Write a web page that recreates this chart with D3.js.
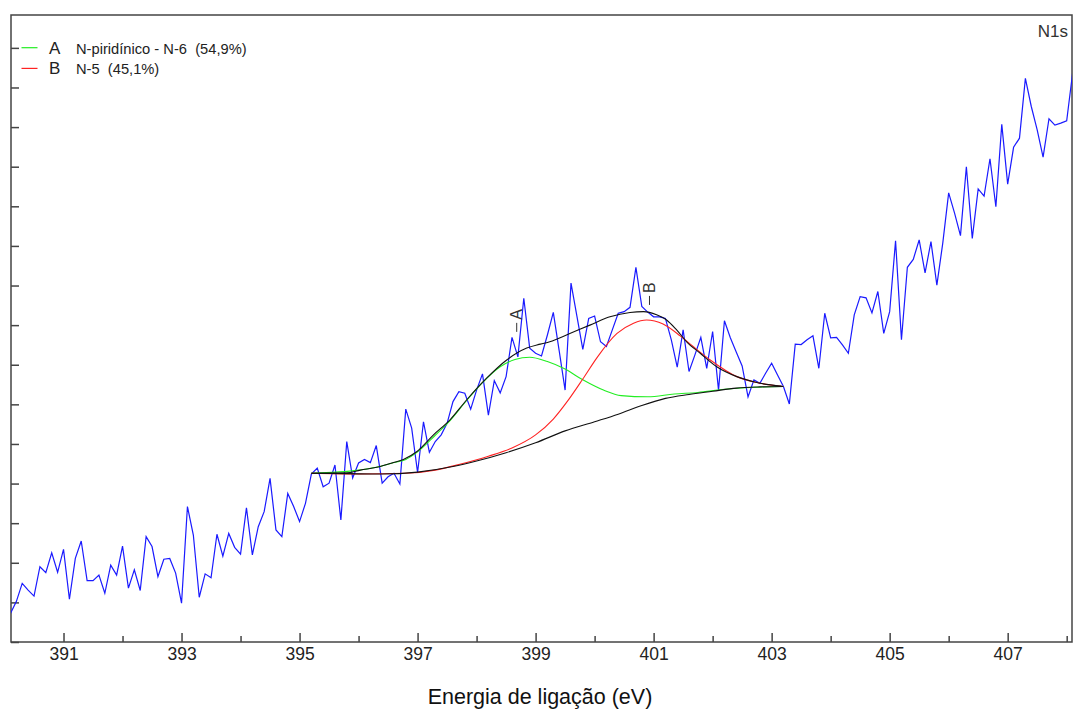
<!DOCTYPE html>
<html>
<head>
<meta charset="utf-8">
<script src="https://cdn.jsdelivr.net/npm/d3@7/dist/d3.min.js"></script>
<style>
  body { margin: 0; background: #fff; }
  svg { display: block; font-family: "Liberation Sans", Arial, sans-serif; }
  .axis text { fill: #222; font-size: 17.5px; font-family: "Liberation Sans", Arial, sans-serif; }
  .axis line { stroke: #444; stroke-width: 1.5; }
  .axis path { display: none; }
</style>
</head>
<body>
<script>
// N1s spectrum, 0.1 eV steps from 390.1 eV
const eStart = 390.1
const eStep = 0.1
const counts = [
  72, 102, 148, 131, 116, 190, 175, 225, 176, 234,
  108, 211, 255, 155, 155, 169, 123, 194, 169, 242,
  136, 182, 130, 266, 241, 165, 209, 211, 174, 98,
  342, 270, 113, 172, 162, 272, 217, 274, 239, 222,
  339, 220, 291, 329, 413, 283, 266, 375, 342, 304,
  350, 424, 439, 392, 401, 447, 308, 506, 414, 452,
  461, 453, 496, 401, 417, 426, 399, 588, 540, 428,
  556, 479, 506, 523, 552, 607, 632, 628, 588, 636,
  677, 573, 660, 629, 670, 769, 720, 868, 742, 729,
  722, 775, 832, 735, 636, 906, 823, 739, 817, 823,
  758, 746, 788, 830, 834, 845, 946, 847, 833, 821,
  821, 817, 763, 694, 788, 683, 725, 769, 691, 784,
  636, 811, 768, 732, 697, 619, 662, 653, 679, 704,
  674, 645, 601, 752, 751, 763, 773, 691, 830, 768,
  769, 750, 729, 826, 872, 869, 831, 885, 779, 834,
  1013, 763, 946, 966, 1015, 932, 1011, 901, 1007, 1134,
  1083, 1026, 1200, 1019, 1144, 1126, 1220, 1099, 1307, 1156,
  1249, 1272, 1423, 1352, 1293, 1224, 1321, 1305, 1310, 1316,
  1436
]

// fit curves [energy, intensity]
const background = [
  [395.2, 426], [395.8, 425], [396.4, 424], [397.0, 429], [397.6, 443],
  [398.0, 457], [398.5, 478], [399.0, 503], [399.5, 533], [400.0, 556],
  [400.4, 575], [400.8, 597], [401.2, 615], [401.6, 625], [402.0, 633],
  [402.4, 641], [402.8, 644], [403.2, 645]
]
const peakA = [
  [395.2, 426], [396.0, 434], [396.3, 441], [396.6, 453], [396.8, 461],
  [397.0, 480], [397.3, 522], [397.55, 559], [397.8, 604], [398.1, 655],
  [398.4, 695], [398.65, 713], [398.9, 719], [399.2, 708], [399.5, 689],
  [399.8, 662], [400.15, 636], [400.45, 622], [400.9, 619], [401.35, 626],
  [401.75, 630], [402.2, 638], [402.7, 643], [403.2, 645]
]
const peakB = [
  [395.2, 426], [396.0, 424], [396.8, 426], [397.3, 434], [397.7, 448],
  [398.2, 469], [398.6, 490], [399.0, 523], [399.3, 563], [399.55, 610],
  [399.8, 664], [400.05, 720], [400.38, 779], [400.66, 805], [400.88, 813],
  [401.16, 803], [401.45, 773], [401.67, 746], [401.96, 712], [402.41, 670],
  [402.75, 655], [403.2, 645]
]
const envelope = [
  [395.2, 426], [395.8, 427], [396.03, 434], [396.31, 441], [396.59, 453],
  [396.76, 461], [396.99, 481], [397.27, 523], [397.55, 561], [397.83, 611],
  [398.17, 666], [398.51, 712], [398.85, 742], [399.08, 752], [399.24, 758],
  [399.58, 779], [399.92, 800], [400.26, 821], [400.6, 832], [400.83, 834],
  [401.05, 826], [401.22, 813], [401.39, 788], [401.56, 758], [401.79, 729],
  [402.07, 695], [402.41, 670], [402.75, 655], [403.17, 646]
]

const legendKeys = ["A", "B"]
const legendLabels = ["N-piridínico - N-6  (54,9%)", "N-5  (45,1%)"]
const peakMarks = [
  { key: "A", energy: 398.68, level: 783 },
  { key: "B", energy: 400.93, level: 851 },
]

const majorTicks = [391, 393, 395, 397, 399, 401, 403, 405, 407]
const minorTicks = [392, 394, 396, 398, 400, 402, 404, 406, 408]
const yTicks = [0, 100, 200, 300, 400, 500, 600, 700, 800, 900, 1000, 1100, 1200, 1300, 1400, 1500]

const w = 1074
const h = 709
const pLeft = 11, pRight = 1072, pTop = 15, pBottom = 642

const x = d3.scaleLinear().domain([390.11, 408.09]).range([pLeft, pRight])
const y = d3.scaleLinear().domain([0, 1583]).range([pBottom, pTop])

const svg = d3.select("body").append("svg").attr("width", w).attr("height", h)

svg.append("clipPath").attr("id", "plot")
  .append("rect")
  .attr("x", pLeft).attr("y", pTop)
  .attr("width", pRight - pLeft).attr("height", pBottom - pTop)

// axes
svg.append("g")
  .attr("class", "axis")
  .attr("transform", `translate(0, ${pBottom})`)
  .call(d3.axisBottom(x).tickValues(majorTicks).tickSizeInner(-9).tickSizeOuter(0)
    .tickPadding(6).tickFormat(d3.format("d")))

svg.append("g")
  .attr("class", "axis")
  .attr("transform", `translate(0, ${pBottom})`)
  .call(d3.axisBottom(x).tickValues(minorTicks).tickSizeInner(-6).tickSizeOuter(0).tickFormat(""))

svg.append("g")
  .attr("class", "axis")
  .attr("transform", `translate(${pLeft}, 0)`)
  .call(d3.axisLeft(y).tickValues(yTicks).tickSizeInner(-8).tickSizeOuter(0).tickFormat(""))

// frame
svg.append("rect")
  .attr("x", pLeft).attr("y", pTop)
  .attr("width", pRight - pLeft).attr("height", pBottom - pTop)
  .attr("fill", "none")
  .attr("stroke", "#444")
  .attr("stroke-width", 1.5)

const plot = svg.append("g").attr("clip-path", "url(#plot)")

const spectrumLine = d3.line()
  .x((d, i) => x(eStart + i * eStep))
  .y((d) => y(d))

plot.append("path")
  .datum(counts)
  .attr("d", spectrumLine)
  .attr("fill", "none")
  .attr("stroke", "#1a1aff")
  .attr("stroke-width", 1.2)

const fitLine = d3.line()
  .x((d) => x(d[0]))
  .y((d) => y(d[1]))
  .curve(d3.curveMonotoneX)

const curves = [
  { data: peakA, color: "#22ee22" },
  { data: peakB, color: "#ff2222" },
  { data: background, color: "#111" },
  { data: envelope, color: "#111" },
]

plot.selectAll(".fit")
  .data(curves)
  .enter()
  .append("path")
  .attr("class", "fit")
  .attr("d", (d) => fitLine(d.data))
  .attr("fill", "none")
  .attr("stroke", (d) => d.color)
  .attr("stroke-width", 1.1)

// peak markers
const marks = svg.selectAll(".mark").data(peakMarks).enter().append("g").attr("class", "mark")
marks.append("line")
  .attr("x1", (d) => x(d.energy)).attr("x2", (d) => x(d.energy))
  .attr("y1", (d) => y(d.level)).attr("y2", (d) => y(d.level) - 9)
  .attr("stroke", "#333")
  .attr("stroke-width", 1)
marks.append("text")
  .attr("transform", (d) => `translate(${x(d.energy)}, ${y(d.level) - 12}) rotate(-90)`)
  .attr("dominant-baseline", "central")
  .attr("font-size", 16)
  .attr("fill", "#333")
  .text((d) => d.key)

// legend
const legendColors = ["#22ee22", "#ff2222"]
const legend = svg.selectAll(".legend")
  .data(legendKeys)
  .enter()
  .append("g")
  .attr("class", "legend")
  .attr("transform", (d, i) => `translate(0, ${i * 20.7})`)

legend.append("line")
  .attr("x1", 21.5).attr("x2", 37.5)
  .attr("y1", 47.7).attr("y2", 47.7)
  .attr("stroke", (d, i) => legendColors[i])
  .attr("stroke-width", 1.2)

legend.append("text")
  .attr("x", 49)
  .attr("y", 53.5)
  .attr("font-size", 17)
  .attr("fill", "#222")
  .text((d) => d)

legend.append("text")
  .attr("x", 76)
  .attr("y", 53.5)
  .attr("font-size", 14.7)
  .attr("fill", "#222")
  .style("white-space", "pre")
  .text((d, i) => legendLabels[i])

svg.append("text")
  .attr("x", 1068)
  .attr("y", 36.5)
  .attr("text-anchor", "end")
  .attr("font-size", 17)
  .attr("fill", "#333")
  .text("N1s")

// x axis title
svg.append("text")
  .attr("x", 540)
  .attr("y", 704)
  .attr("text-anchor", "middle")
  .attr("font-size", 21.5)
  .attr("fill", "#111")
  .text("Energia de ligação (eV)")
</script>
</body>
</html>
